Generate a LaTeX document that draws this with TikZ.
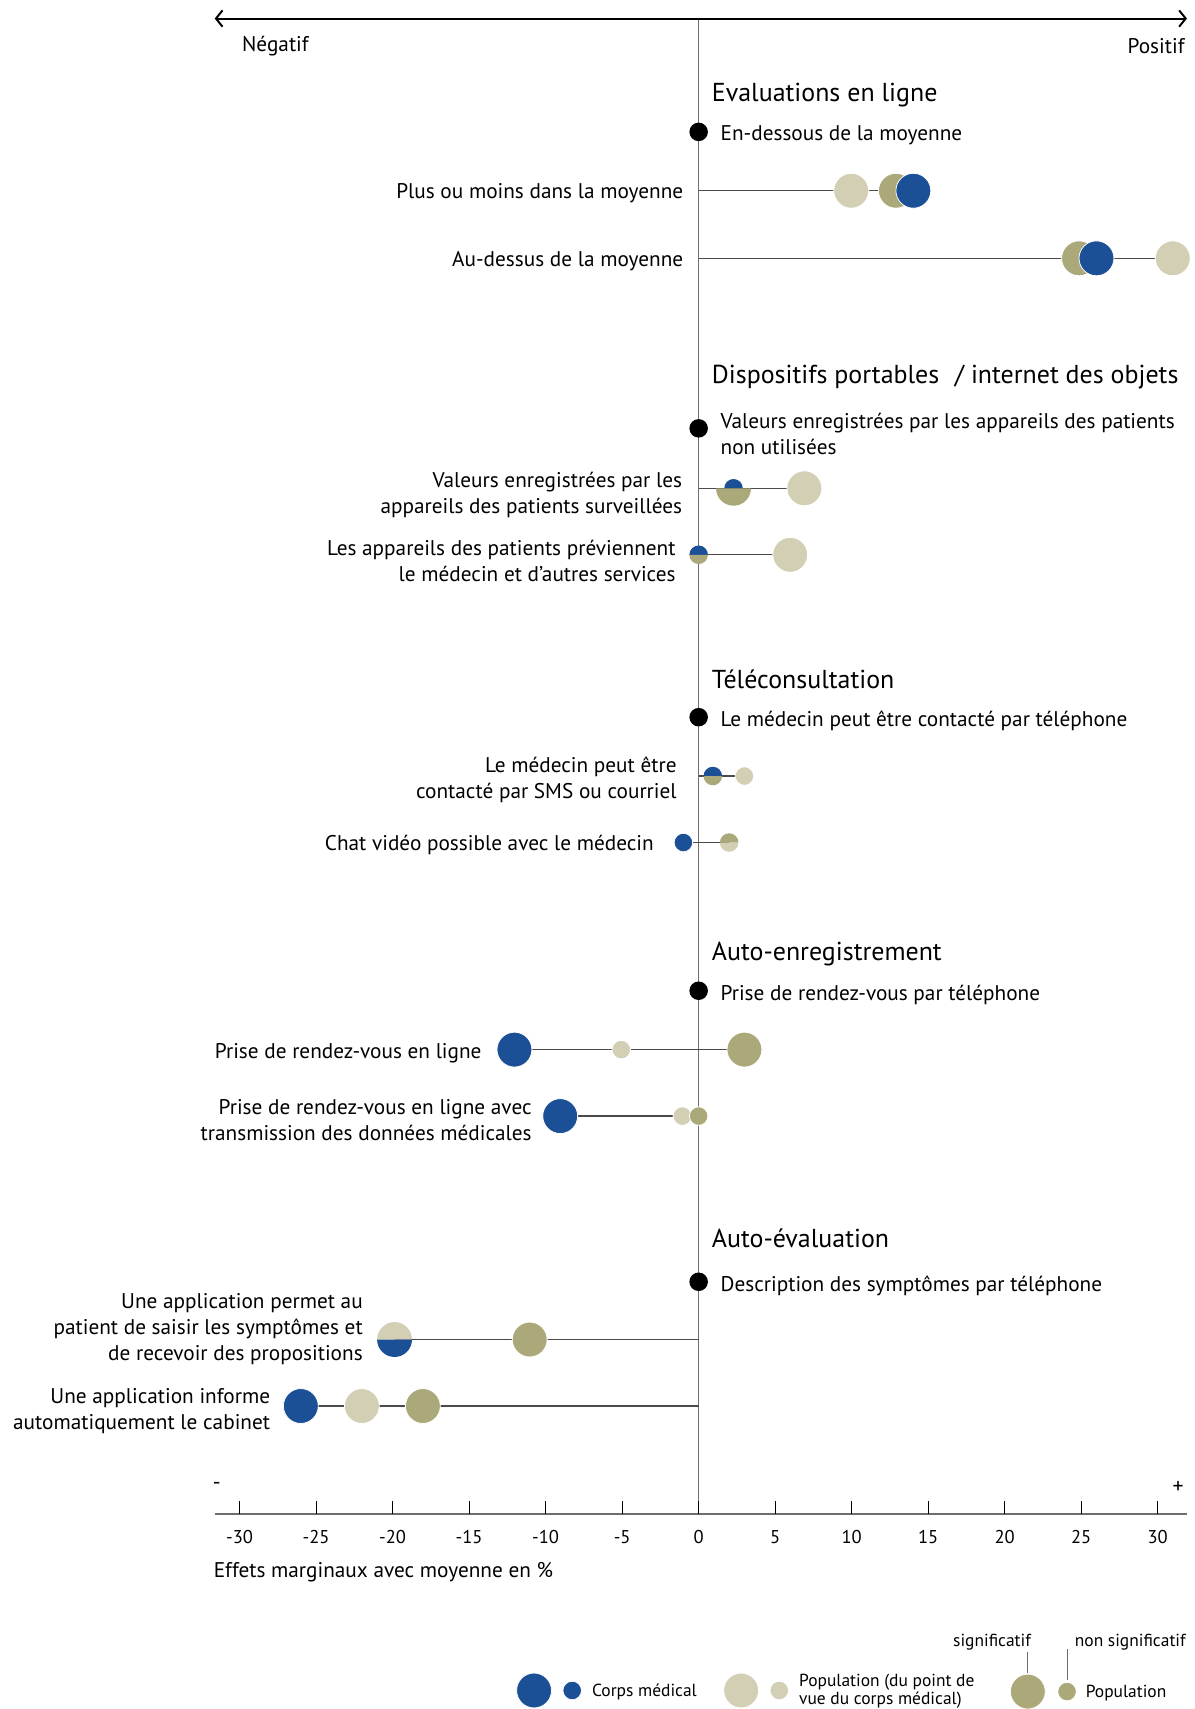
\documentclass[tikz,border=0pt]{standalone}
\usepackage{fontspec}
\setmainfont{PT Sans}
\usetikzlibrary{arrows.meta,calc}
\definecolor{med}{HTML}{1B4F96}
\definecolor{popm}{HTML}{D3CFB5}
\definecolor{pop}{HTML}{ABA97A}
\definecolor{axgray}{HTML}{6E6E6E}
\definecolor{rowgray}{HTML}{4A4A4A}
\newcommand{\halfdot}[5]{%
  \fill[#2] ($(#1)+(#3,0)$) arc[start angle=0,end angle=180,radius=#3] -- cycle;
  \fill[#4] ($(#1)+(#5,0)$) arc[start angle=0,end angle=-180,radius=#5] -- cycle;
}
\tikzset{
  lbl/.style={font=\fontsize{19.5}{24}\selectfont, inner sep=0pt, yshift=-2.5pt},
  ttl/.style={font=\fontsize{23.8}{28}\selectfont, inner sep=0pt, anchor=west, yshift=-2.5pt},
  tick/.style={font=\fontsize{17}{20}\selectfont, inner sep=0pt},
  sign/.style={font=\fontsize{20}{20}\selectfont, inner sep=0pt},
  leg/.style={font=\fontsize{16}{16.5}\selectfont, inner sep=0pt},
  dotbase/.style={circle, inner sep=0pt, draw=white, line width=0.7pt},
  bigdot/.style={dotbase, minimum size=32pt},
  smalldot/.style={dotbase, minimum size=17pt},
  refdot/.style={circle, inner sep=0pt, minimum size=17pt, fill=black},
  rowline/.style={rowgray, line width=1.3pt},
  axisline/.style={axgray, line width=1.4pt},
}
\begin{document}
\begin{tikzpicture}[x=1pt,y=1pt]
\useasboundingbox (0,0) rectangle (1096,-1568);

% ---------- axes ----------
\coordinate (axtop) at (641,-17);
\coordinate (axbot) at (641,-1389);
\draw[axisline] (axtop) -- (axbot);
\coordinate (arL) at (197,-17);
\coordinate (arR) at (1089,-17);
\draw[line width=1.8pt, {Straight Barb[length=6pt,width=15pt]}-{Straight Barb[length=6pt,width=15pt]}] (arL) -- (arR);
\node[lbl, anchor=west] (neg) at (222,-40) {Négatif};
\node[lbl, anchor=east] (posi) at (1087,-40) {Positif};

\coordinate (hL) at (197,-1389);
\coordinate (hR) at (1089,-1389);
\draw[axisline] (hL) -- (hR);
\foreach \v in {-30,-25,...,30} {
  \draw[black, line width=1pt] ({641+14.04*\v},-1377) -- ({641+14.04*\v},-1389);
  \node[tick] at ({641+14.04*\v},-1410) {\v};
}
\node[sign] (minus) at (199,-1363) {-};
\node[sign] (plus) at (1081,-1365) {+};
\node[lbl, anchor=west] (xlab) at (196,-1440) {Effets marginaux avec moyenne en \%};

% ---------- titles, reference categories, row labels ----------
\node[ttl] (t1) at (653,-85) {Evaluations en ligne};
\node[refdot] (r1) at (641,-121) {};
\node[lbl, anchor=west] (r1l) at (661,-122) {En-dessous de la moyenne};
\coordinate (a1) at (641,-175);
\node[lbl, anchor=east] (a1l) at (627,-175) {Plus ou moins dans la moyenne};
\coordinate (a2) at (641,-237);
\node[lbl, anchor=east] (a2l) at (627,-237) {Au-dessus de la moyenne};

\node[ttl] (t2) at (653,-343) {Dispositifs portables\hspace{0.6em}/ internet des objets};
\node[refdot] (r2) at (641,-393) {};
\node[lbl, anchor=west, align=left] (r2l) at (661,-396) {Valeurs enregistrées par les appareils des patients\\non utilisées};
\coordinate (b1) at (641,-448);
\node[lbl, anchor=east, align=right] (b1l) at (626,-452) {Valeurs enregistrées par les\\appareils des patients surveillées};
\coordinate (b2) at (641,-509);
\node[lbl, anchor=east, align=right] (b2l) at (620,-512) {Les appareils des patients préviennent\\le médecin et d’autres services};

\node[ttl] (t3) at (653,-621) {Téléconsultation};
\node[refdot] (r3) at (641,-658) {};
\node[lbl, anchor=west] (r3l) at (661,-659) {Le médecin peut être contacté par téléphone};
\coordinate (c1) at (641,-712);
\node[lbl, anchor=east, align=right] (c1l) at (621,-713) {Le médecin peut être\\contacté par SMS ou courriel};
\coordinate (c2) at (641,-773);
\node[lbl, anchor=east] (c2l) at (600,-773) {Chat vidéo possible avec le médecin};

\node[ttl] (t4) at (653,-873) {Auto-enregistrement};
\node[refdot] (r4) at (641,-909) {};
\node[lbl, anchor=west] (r4l) at (661,-910) {Prise de rendez-vous par téléphone};
\coordinate (d1) at (641,-963);
\node[lbl, anchor=east] (d1l) at (442,-964) {Prise de rendez-vous en ligne};
\coordinate (d2) at (641,-1024);
\node[lbl, anchor=east, align=right] (d2l) at (488,-1025) {Prise de rendez-vous en ligne avec\\transmission des données médicales};

\node[ttl] (t5) at (653,-1134) {Auto-évaluation};
\node[refdot] (r5) at (641,-1176) {};
\node[lbl, anchor=west] (r5l) at (661,-1177) {Description des symptômes par téléphone};
\coordinate (e1) at (641,-1229);
\node[lbl, anchor=east, align=right] (e1l) at (333,-1217) {Une application permet au\\patient de saisir les symptômes et\\de recevoir des propositions};
\coordinate (e2) at (641,-1290);
\node[lbl, anchor=east, align=right] (e2l) at (248,-1292) {Une application informe\\automatiquement le cabinet};

% ---------- dot positions ----------
\coordinate (a1end) at (838,-175);
\coordinate (a2end) at (1076,-237);
\coordinate (b1h) at (673,-448);
\coordinate (b1end) at (738,-448);
\coordinate (b2h) at (641,-509);
\coordinate (b2end) at (725,-509);
\coordinate (c1h) at (654,-712);
\coordinate (c1end) at (683,-712);
\coordinate (c2start) at (627,-773);
\coordinate (c2h) at (669,-773);
\coordinate (d1start) at (472,-963);
\coordinate (d1end) at (683,-963);
\coordinate (d2start) at (514,-1024);
\coordinate (e1h) at (362,-1229);
\coordinate (e2start) at (276,-1290);

% ---------- row lines (under dots) ----------
\draw[rowline] (a1) -- (a1end);
\draw[rowline] (a2) -- (a2end);
\draw[rowline] (b1) -- (b1end);
\draw[rowline] (b2) -- (b2end);
\draw[rowline] (c1) -- (c1end);
\draw[rowline] (c2start) -- (c2h);
\draw[rowline] (d1start) -- (d1end);
\draw[rowline] (d2start) -- (d2);
\draw[rowline] (e1h) -- (e1);
\draw[rowline] (e2start) -- (e2);

% ---------- dots ----------
\node[bigdot, fill=popm] (a1p) at (781,-175) {};
\node[bigdot, fill=pop] (a1o) at (822,-175) {};
\node[bigdot, fill=med] (a1m) at (a1end) {};
\node[bigdot, fill=pop] (a2o) at (990,-237) {};
\node[bigdot, fill=med] (a2m) at (1006,-237) {};
\node[bigdot, fill=popm] (a2p) at (a2end) {};
\halfdot{b1h}{med}{8.5}{pop}{16}
\node[bigdot, fill=popm] (b1p) at (b1end) {};
\halfdot{b2h}{med}{8.5}{pop}{8.5}
\node[bigdot, fill=popm] (b2p) at (b2end) {};
\halfdot{c1h}{med}{8.5}{pop}{8.5}
\node[smalldot, fill=popm] (c1p) at (c1end) {};
\node[smalldot, fill=med] (c2m) at (c2start) {};
\halfdot{c2h}{pop}{8.5}{popm}{8.5}
\node[bigdot, fill=med] (d1m) at (d1start) {};
\node[smalldot, fill=popm] (d1p) at (570,-963) {};
\node[bigdot, fill=pop] (d1o) at (d1end) {};
\node[bigdot, fill=med] (d2m) at (d2start) {};
\node[smalldot, fill=popm] (d2p) at (626,-1024) {};
\node[smalldot, fill=pop] (d2o) at (d2) {};
\halfdot{e1h}{popm}{16}{med}{16}
\node[bigdot, fill=pop] (e1o) at (486,-1229) {};
\node[bigdot, fill=med] (e2m) at (e2start) {};
\node[bigdot, fill=popm] (e2p) at (332,-1290) {};
\node[bigdot, fill=pop] (e2o) at (388,-1290) {};

% ---------- legend ----------
\node[bigdot, fill=med] (lg1) at (490,-1551) {};
\node[smalldot, fill=med] (lg2) at (525,-1551) {};
\node[leg, anchor=west] (lg2t) at (543,-1552) {Corps médical};
\node[bigdot, fill=popm] (lg3) at (680,-1551) {};
\node[smalldot, fill=popm] (lg4) at (715,-1551) {};
\node[leg, anchor=west, align=left] (lg4t) at (733,-1552) {Population (du point de\\vue du corps médical)};
\node[bigdot, fill=pop] (lg5) at (943,-1552) {};
\node[smalldot, fill=pop] (lg6) at (979,-1552) {};
\node[leg, anchor=west] (lg6t) at (996,-1553) {Population};
\node[leg, anchor=east] (sig) at (946,-1507) {significatif};
\node[leg, anchor=west] (nsig) at (986,-1507) {non significatif};
\coordinate (sigA) at (943,-1516);
\coordinate (sigB) at (943,-1535);
\coordinate (nsigA) at (979,-1513);
\coordinate (nsigB) at (979,-1541);
\draw[axgray, line width=1pt] (sigA) -- (sigB);
\draw[axgray, line width=1pt] (nsigA) -- (nsigB);
\end{tikzpicture}
\end{document}
